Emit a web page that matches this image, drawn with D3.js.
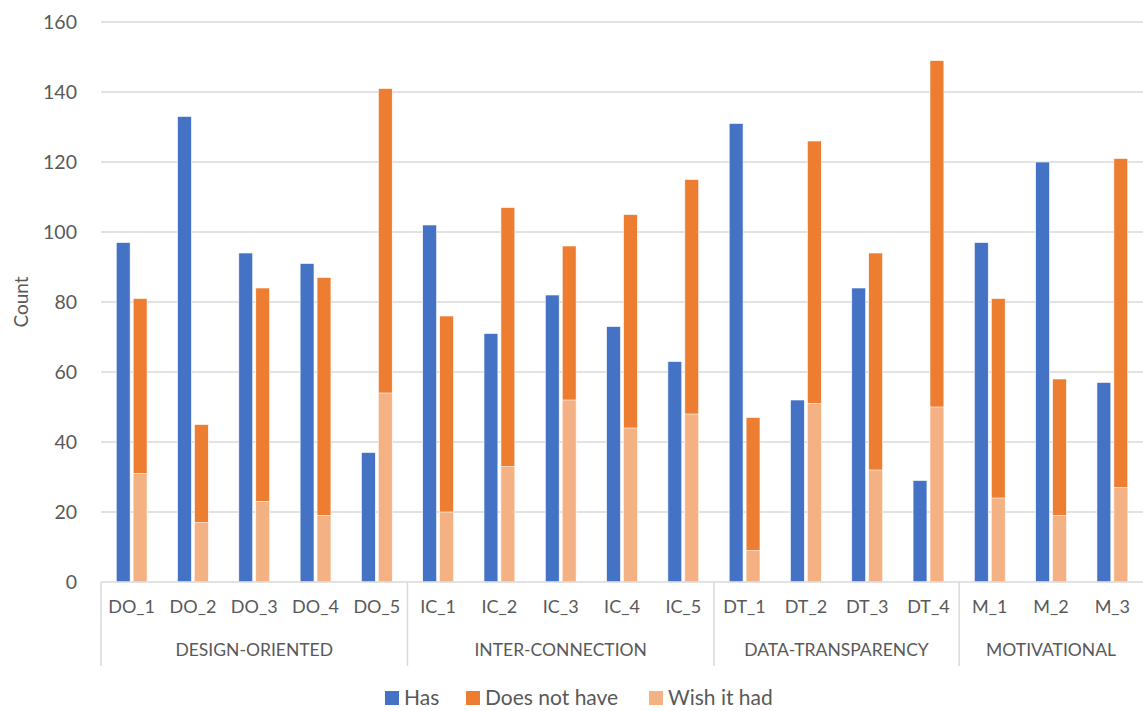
<!DOCTYPE html>
<html>
<head>
<meta charset="utf-8">
<title>Count by feature</title>
<style>
body { margin: 0; background: #fff; }
text { font-family: Lato, "Open Sans", sans-serif; fill: #595959; }
</style>
</head>
<body>
<script src="https://cdn.jsdelivr.net/npm/d3@7"></script>
<script>

// categories and groups
var items = ["DO_1","DO_2","DO_3","DO_4","DO_5","IC_1","IC_2","IC_3","IC_4","IC_5","DT_1","DT_2","DT_3","DT_4","M_1","M_2","M_3"];
var groups = ["DESIGN-ORIENTED","INTER-CONNECTION","DATA-TRANSPARENCY","MOTIVATIONAL"];
var groupSizes = [5, 5, 4, 3];

// series values
var has        = [97,133,94,91,37, 102,71,82,73,63, 131,52,84,29, 97,120,57];
var doesNotHave = [81,45,84,87,141, 76,107,96,105,115, 47,126,94,149, 81,58,121];
var wishItHad  = [31,17,23,19,54, 20,33,52,44,48, 9,51,32,50, 24,19,27];

var yTicks = [0,20,40,60,80,100,120,140,160];

var width = 1143, height = 711;
var margin = {left: 101, right: 0, top: 22, bottom: 129};

var svg = d3.select("body").append("svg")
    .attr("width", width)
    .attr("height", height);

var x = d3.scaleBand()
    .domain(items)
    .range([margin.left, width - margin.right]);

var x1 = d3.scaleBand()
    .domain(["has","not"])
    .range([0, x.bandwidth()])
    .paddingInner(0.18)
    .paddingOuter(0.9);

var y = d3.scaleLinear()
    .domain([0, 160])
    .range([height - margin.bottom, margin.top]);

// gridlines
svg.append("g")
  .selectAll("line")
  .data(yTicks.slice(1))
  .enter().append("line")
    .attr("x1", margin.left)
    .attr("x2", width)
    .attr("y1", function(d) { return y(d); })
    .attr("y2", function(d) { return y(d); })
    .style("stroke", "#d9d9d9")
    .style("stroke-width", 1.3);

// y tick labels
svg.append("g")
  .selectAll("text")
  .data(yTicks)
  .enter().append("text")
    .attr("x", 77)
    .attr("y", function(d) { return y(d); })
    .attr("dy", "0.35em")
    .attr("text-anchor", "end")
    .style("font-size", "19.5px")
    .text(function(d) { return d; });

svg.append("text")
    .attr("transform", "translate(28," + y(80) + ") rotate(-90)")
    .attr("text-anchor", "middle")
    .style("font-size", "19px")
    .text("Count");

var rows = items.map(function(d, i) {
  return {name: d, has: has[i], not: doesNotHave[i], wish: wishItHad[i]};
});

var bars = svg.append("g");

bars.selectAll("rect.has")
  .data(rows)
  .enter().append("rect")
    .attr("class", "has")
    .attr("x", function(d) { return x(d.name) + x1("has"); })
    .attr("width", x1.bandwidth())
    .attr("y", function(d) { return y(d.has); })
    .attr("height", function(d) { return y(0) - y(d.has); })
    .style("fill", "#4472c4")
    .style("stroke", "#fff")
    .style("stroke-width", 0.6);

bars.selectAll("rect.not")
  .data(rows)
  .enter().append("rect")
    .attr("class", "not")
    .attr("x", function(d) { return x(d.name) + x1("not"); })
    .attr("width", x1.bandwidth())
    .attr("y", function(d) { return y(d.not); })
    .attr("height", function(d) { return y(0) - y(d.not); })
    .style("fill", "#ed7d31")
    .style("stroke", "#fff")
    .style("stroke-width", 0.6);

bars.selectAll("rect.wish")
  .data(rows)
  .enter().append("rect")
    .attr("class", "wish")
    .attr("x", function(d) { return x(d.name) + x1("not"); })
    .attr("width", x1.bandwidth())
    .attr("y", function(d) { return y(d.wish); })
    .attr("height", function(d) { return y(0) - y(d.wish); })
    .style("fill", "#f4b183")
    .style("stroke", "#fff")
    .style("stroke-width", 0.6);

// category axis
var axisY = y(0);
svg.append("line")
    .attr("x1", margin.left)
    .attr("x2", width)
    .attr("y1", axisY)
    .attr("y2", axisY)
    .style("stroke", "#d9d9d9")
    .style("stroke-width", 1.5);

svg.append("g")
  .selectAll("text")
  .data(items)
  .enter().append("text")
    .attr("x", function(d) { return x(d) + x.bandwidth() / 2; })
    .attr("y", axisY + 25)
    .attr("dy", "0.35em")
    .attr("text-anchor", "middle")
    .style("font-size", "18px")
    .text(function(d) { return d; });

// group labels and separators
var start = 0;
var groupData = groups.map(function(g, i) {
  var first = items[start], last = items[start + groupSizes[i] - 1];
  start += groupSizes[i];
  return {name: g, x0: x(first), x1: x(last) + x.bandwidth()};
});

svg.append("g")
  .selectAll("line")
  .data(groupData)
  .enter().append("line")
    .attr("x1", function(d) { return d.x0; })
    .attr("x2", function(d) { return d.x0; })
    .attr("y1", axisY)
    .attr("y2", axisY + 84)
    .style("stroke", "#d9d9d9")
    .style("stroke-width", 1.5);

svg.append("g")
  .selectAll("text")
  .data(groupData)
  .enter().append("text")
    .attr("x", function(d) { return (d.x0 + d.x1) / 2; })
    .attr("y", axisY + 68)
    .attr("dy", "0.35em")
    .attr("text-anchor", "middle")
    .style("font-size", "17.5px")
    .text(function(d) { return d.name; });

// legend
var legendItems = [
  {label: "Has", color: "#4472c4", x: 385},
  {label: "Does not have", color: "#ed7d31", x: 466},
  {label: "Wish it had", color: "#f4b183", x: 649}
];

var legend = svg.append("g")
  .selectAll("g")
  .data(legendItems)
  .enter().append("g")
    .attr("transform", function(d) { return "translate(" + d.x + ",698)"; });

legend.append("rect")
    .attr("x", 0)
    .attr("y", -7)
    .attr("width", 14)
    .attr("height", 14)
    .style("fill", function(d) { return d.color; });

legend.append("text")
    .attr("x", 19)
    .attr("dy", "0.35em")
    .style("font-size", "21px")
    .text(function(d) { return d.label; });

</script>
</body>
</html>
